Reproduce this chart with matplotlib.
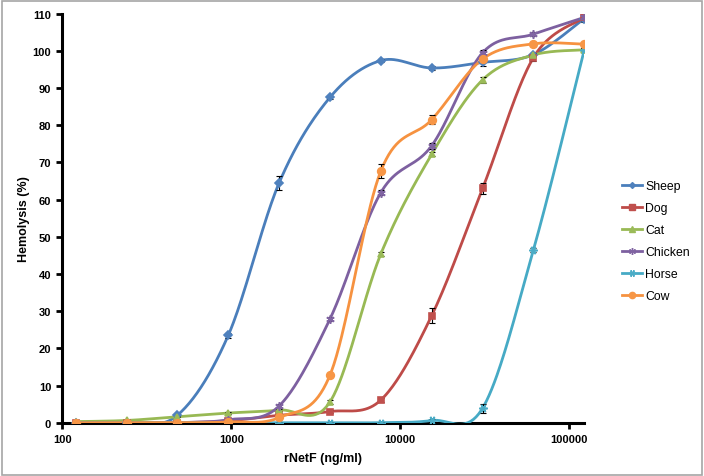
import numpy as np
import matplotlib
matplotlib.use("Agg")
import matplotlib.pyplot as plt
from matplotlib.patches import Rectangle

conc = [120, 240, 480, 960, 1920, 3840, 7680, 15360, 30720, 61440, 122880]
series_names = ["Sheep", "Dog", "Cat", "Chicken", "Horse", "Cow"]
sheep = [0, 0, 2.0, 23.5, 64.5, 87.5, 97.4, 95.4, 96.9, 99.0, 108.7]
dog = [0, 0, 0, 0.5, 2.0, 3.0, 6.1, 28.8, 63.0, 98.2, 109.0]
cat = [0.3, 0.6, 1.6, 2.6, 3.4, 5.6, 45.4, 72.2, 92.2, 98.9, 100.3]
chicken = [0, 0, 0, 0.8, 4.5, 27.9, 61.9, 74.5, 99.5, 104.5, 109.0]
horse = [0, 0, 0, 0, 0, 0, 0, 0.6, 3.9, 46.5, 100.3]
cow = [0, 0, 0, 0.2, 1.4, 12.8, 67.7, 81.5, 97.8, 101.9, 101.8]
sheep_err = [0.2, 0.2, 0.3, 0.6, 1.8, 0.5, 0.4, 0.5, 1.0, 0.5, 0.8]
dog_err = [0.1, 0.1, 0.1, 0.2, 0.3, 0.4, 0.5, 2.0, 1.5, 0.8, 1.0]
cat_err = [0.1, 0.1, 0.2, 0.3, 0.3, 0.5, 0.5, 0.6, 0.8, 0.6, 0.4]
chicken_err = [0.1, 0.1, 0.1, 0.2, 0.5, 0.6, 0.6, 0.8, 0.8, 0.5, 0.8]
horse_err = [0.1, 0.1, 0.1, 0.1, 0.1, 0.1, 0.1, 0.4, 1.2, 0.5, 0.5]
cow_err = [0.1, 0.1, 0.1, 0.1, 0.5, 0.6, 2.0, 1.2, 0.8, 0.5, 0.5]

values = [sheep, dog, cat, chicken, horse, cow]
errors = [sheep_err, dog_err, cat_err, chicken_err, horse_err, cow_err]
colors = ["#4A7EBB", "#BE4B48", "#98B954", "#7D60A0", "#46AAC5", "#F69240"]
mfc = ["#4F81BD", "#C0504D", "#9BBB59", "#8064A2", "#4BACC6", "#F79646"]
markers = ["D", "s", "^", (6, 2, 0), (6, 2, 90), "o"]
msizes = [4, 5, 5, 6, 6, 5.5]


def smooth(xs, ys, n=40):
    lx = np.log10(np.asarray(xs, float))
    y = np.asarray(ys, float)
    P = np.column_stack([lx, y])
    Pe = np.vstack([P[0], P, P[-1]])
    out = []
    t = np.linspace(0, 1, n)[:, None]
    for i in range(len(P) - 1):
        p0, p1, p2, p3 = Pe[i], Pe[i + 1], Pe[i + 2], Pe[i + 3]
        c1 = p1 + (p2 - p0) / 6.0
        c2 = p2 - (p3 - p1) / 6.0
        seg = ((1 - t) ** 3) * p1 + 3 * ((1 - t) ** 2) * t * c1 + 3 * (1 - t) * t ** 2 * c2 + t ** 3 * p2
        out.append(seg if i == 0 else seg[1:])
    S = np.vstack(out)
    return 10 ** S[:, 0], S[:, 1]


fig = plt.figure(figsize=(7.04, 4.77), dpi=100)
ax = fig.add_axes([62.3 / 704, 1 - 423.7 / 477, (584.3 - 62.3) / 704, (423.7 - 14.7) / 477])
ax.set_xscale("log")

for name, v, e, c, fc, m, ms in zip(series_names, values, errors, colors, mfc, markers, msizes):
    sx, sy = smooth(conc, v)
    ax.plot(sx, sy, color=c, lw=2.0, zorder=3, solid_capstyle="round")
    ax.errorbar(conc, v, yerr=e, fmt="none", ecolor="black", elinewidth=0.8, capsize=2.2, capthick=0.8, zorder=4)
    ax.plot(conc, v, linestyle="none", marker=m, markersize=ms, markerfacecolor=fc,
            markeredgecolor=fc, markeredgewidth=1.2, zorder=5)
    ax.plot([], [], color=c, lw=2.0, marker=m, markersize=ms - 1, markerfacecolor=fc,
            markeredgecolor=fc, label=name)

ax.set_xlim(100, 122880)
ax.set_ylim(0, 110)
ax.set_yticks(range(0, 111, 10))
ax.set_xticks([100, 1000, 10000, 100000])
ax.set_xticklabels(["100", "1000", "10000", "100000"])
ax.xaxis.set_minor_locator(matplotlib.ticker.NullLocator())

for s in ["top", "right"]:
    ax.spines[s].set_visible(False)
for s in ["left", "bottom"]:
    ax.spines[s].set_linewidth(2.2)
    ax.spines[s].set_color("black")
    ax.spines[s].set_zorder(2)

ax.tick_params(axis="both", direction="out", length=4, width=2, colors="black", pad=4)
for lab in ax.get_xticklabels() + ax.get_yticklabels():
    lab.set_fontfamily("Liberation Sans")
    lab.set_fontweight("bold")
    lab.set_fontsize(8)

ax.set_xlabel("rNetF (ng/ml)", fontfamily="Liberation Sans", fontweight="bold", fontsize=9, labelpad=6)
ax.set_ylabel("Hemolysis (%)", fontfamily="Liberation Sans", fontweight="bold", fontsize=9, labelpad=2)

leg = ax.legend(loc="upper left", bbox_to_anchor=(617 / 704, 1 - 176 / 477), bbox_transform=fig.transFigure,
                frameon=False, prop={"family": "Liberation Sans", "size": 8.8}, handlelength=1.65,
                handletextpad=0.25, labelspacing=0.82, borderaxespad=0)

fig.patches.append(Rectangle((1.5 / 704, 1.5 / 477), 700.5 / 704, 474 / 477, transform=fig.transFigure,
                             fill=False, edgecolor="#A6A6A6", lw=1.2))

fig.savefig("out.png", dpi=100)
